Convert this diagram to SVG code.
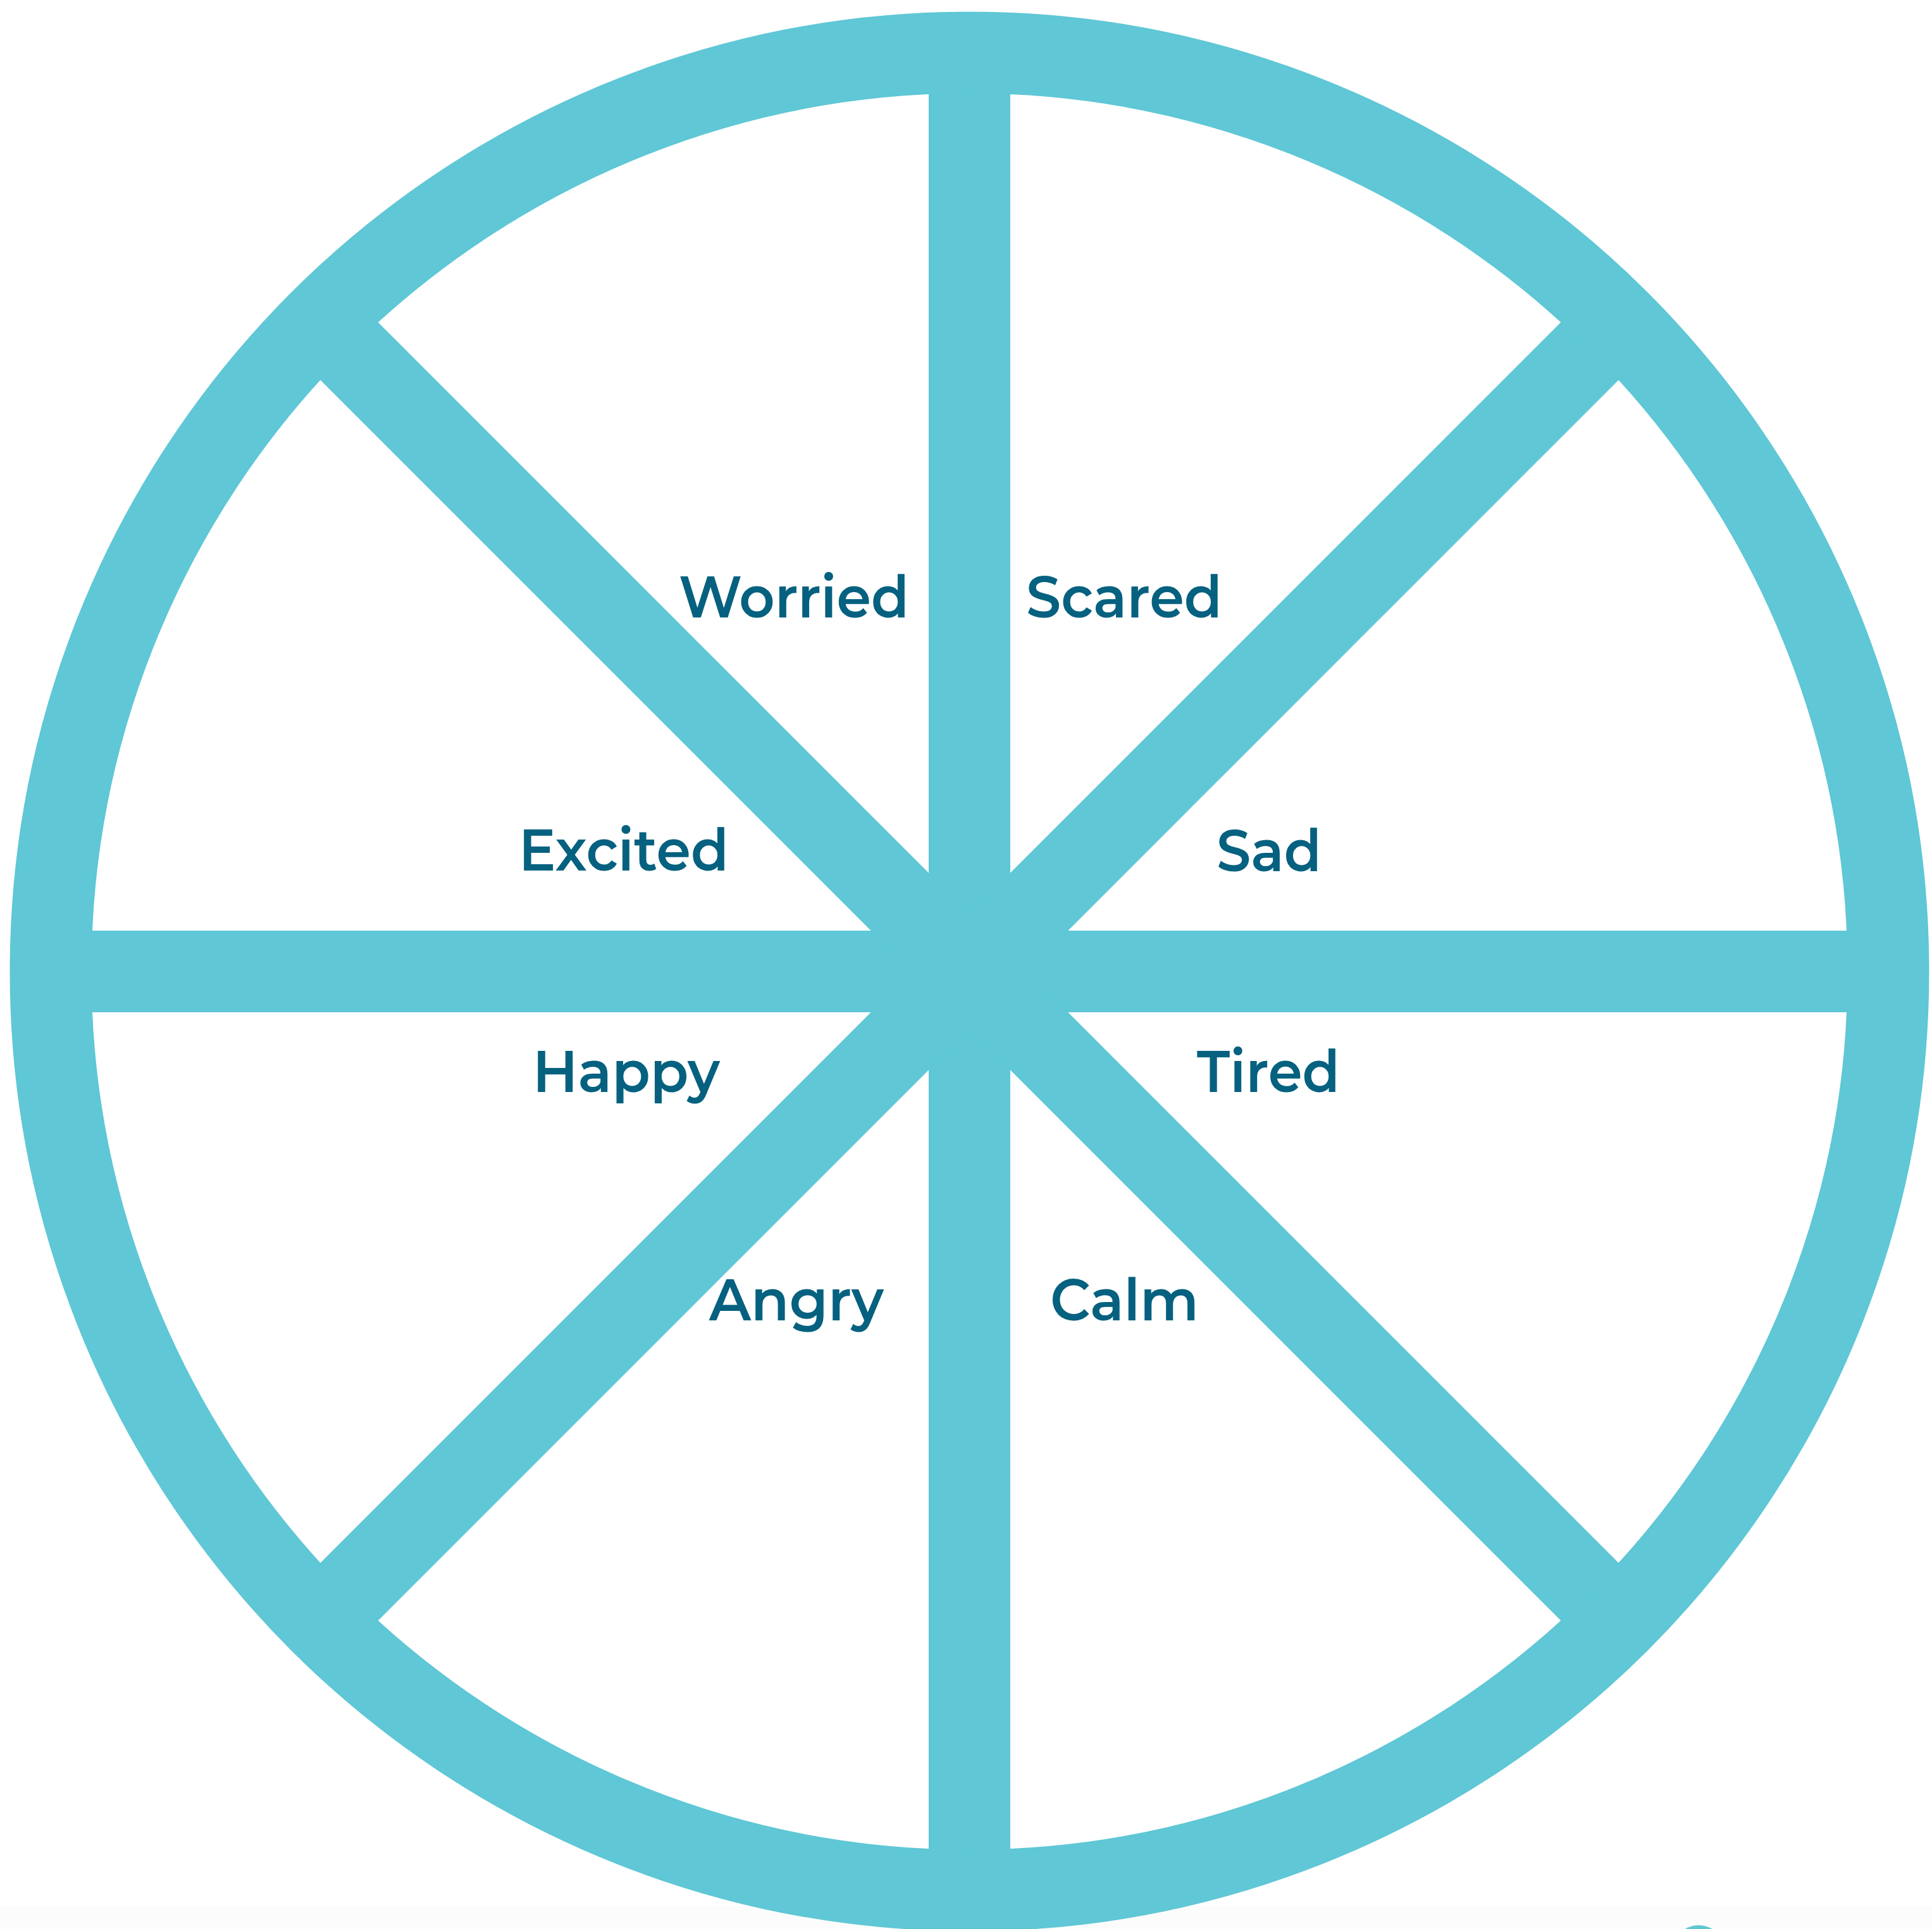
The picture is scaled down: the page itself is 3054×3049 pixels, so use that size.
<svg xmlns="http://www.w3.org/2000/svg" width="3054" height="3049" viewBox="0 0 3054 3049">
  <style>
    .spoke { stroke: #5fc7d5; stroke-width: 129; fill: none; stroke-linecap: butt; }
    .ring { stroke: #5fc7d5; stroke-width: 129; fill: none; }
    .label { font-family: "Montserrat", "Open Sans", "Noto Sans", sans-serif; font-weight: 600; font-size: 92px; fill: #05617f; }
  </style>
  <rect x="0" y="0" width="3054" height="3049" fill="#ffffff"/>
  <rect x="0" y="3013" width="3054" height="36" fill="#fcfcfc"/>
  <g id="connectors">
    <line class="spoke" x1="1532.5" y1="80" x2="1532.5" y2="2995"/>
    <line class="spoke" x1="80" y1="1535.5" x2="2985" y2="1535.5"/>
    <line class="spoke" x1="505.5" y1="508.5" x2="2559.5" y2="2562.5"/>
    <line class="spoke" x1="2559.5" y1="508.5" x2="505.5" y2="2562.5"/>
  </g>
  <g id="wheel">
    <circle class="ring" cx="1532.5" cy="1535.5" r="1452.5"/>
  </g>
  <g id="corner-mark">
    <circle cx="2685" cy="3085" r="42" fill="#5fc7d5"/>
  </g>
  <g id="node-worried"><text class="label" x="1073" y="976" textLength="364" lengthAdjust="spacingAndGlyphs">Worried</text></g>
  <g id="node-scared"><text class="label" x="1622" y="976" textLength="310" lengthAdjust="spacingAndGlyphs">Scared</text></g>
  <g id="node-excited"><text class="label" x="820" y="1376" textLength="332" lengthAdjust="spacingAndGlyphs">Excited</text></g>
  <g id="node-sad"><text class="label" x="1923" y="1377" textLength="166" lengthAdjust="spacingAndGlyphs">Sad</text></g>
  <g id="node-happy"><text class="label" x="842" y="1726" textLength="296" lengthAdjust="spacingAndGlyphs">Happy</text></g>
  <g id="node-tired"><text class="label" x="1892" y="1726" textLength="226" lengthAdjust="spacingAndGlyphs">Tired</text></g>
  <g id="node-angry"><text class="label" x="1121" y="2087" textLength="276" lengthAdjust="spacingAndGlyphs">Angry</text></g>
  <g id="node-calm"><text class="label" x="1660" y="2087" textLength="235" lengthAdjust="spacingAndGlyphs">Calm</text></g>
</svg>
